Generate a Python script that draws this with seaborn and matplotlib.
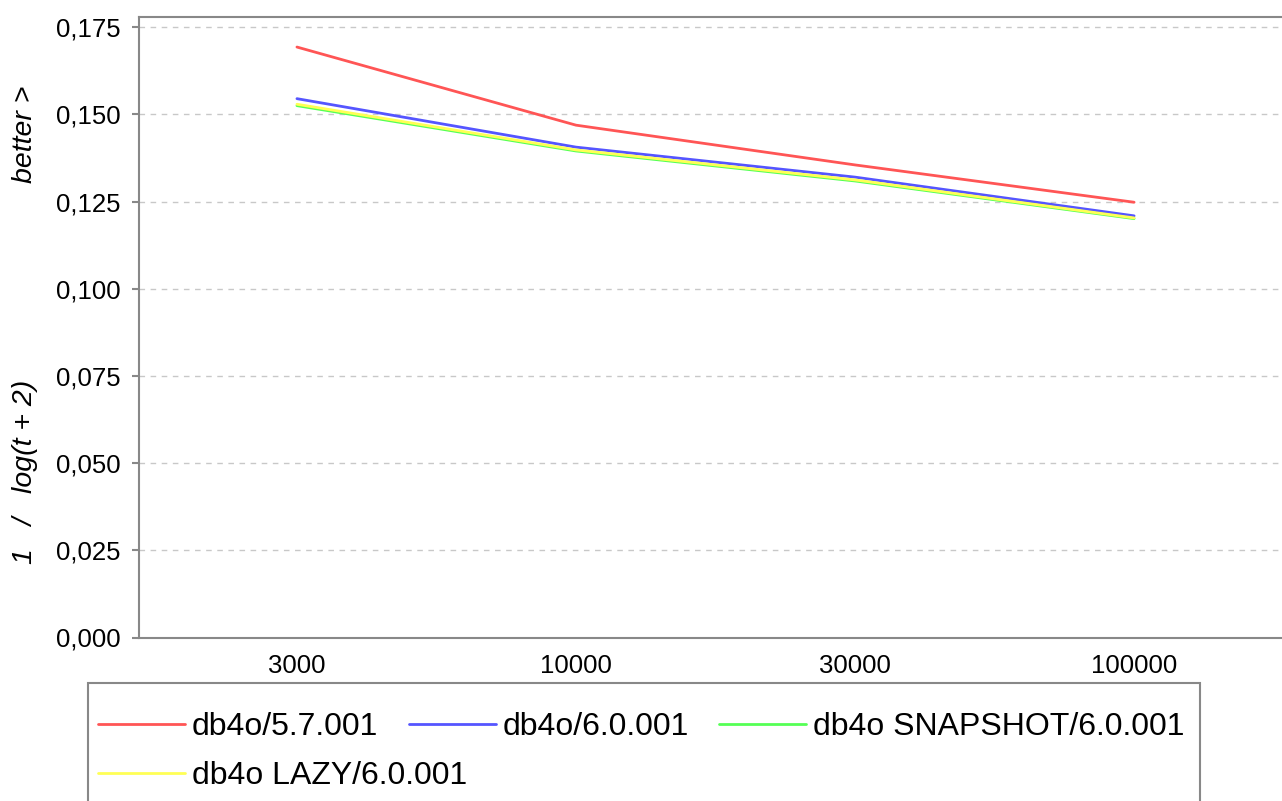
import matplotlib
matplotlib.use("Agg")
import matplotlib.pyplot as plt
import matplotlib.patches as mpatches
from matplotlib.ticker import FuncFormatter, FixedLocator
import seaborn as sns
import pandas as pd

# ---- data ----
sizes = ["3000", "10000", "30000", "100000"]
series_names = ["db4o/5.7.001", "db4o/6.0.001", "db4o SNAPSHOT/6.0.001", "db4o LAZY/6.0.001"]
v_57 = [0.1693, 0.1469, 0.1355, 0.1248]
v_60 = [0.1545, 0.1406, 0.1320, 0.1209]
v_snap = [0.1525, 0.1395, 0.1309, 0.1201]
v_lazy = [0.1529, 0.1398, 0.1312, 0.1203]
colors = ["#FF5555", "#5555FF", "#55FF55", "#FFFF55"]
y_ticks = [0.0, 0.025, 0.05, 0.075, 0.1, 0.125, 0.15, 0.175]

rows = []
for name, vals in zip(series_names, [v_57, v_60, v_snap, v_lazy]):
    for s, v in zip(sizes, vals):
        rows.append({"size": s, "value": v, "series": name})
df = pd.DataFrame(rows)

sns.set_theme(style="white")
plt.rcParams["font.family"] = ["Liberation Sans", "DejaVu Sans"]
plt.rcParams["text.color"] = "black"
plt.rcParams["legend.labelcolor"] = "black"

W, H = 1282, 801
fig = plt.figure(figsize=(W / 100, H / 100), dpi=100)
ax = fig.add_axes([139 / W, 1 - 637.5 / H, 1 - 139 / W, (637.5 - 16.7) / H])

sns.lineplot(data=df, x="size", y="value", hue="series", hue_order=series_names,
             palette=colors, linewidth=2.0, ax=ax, sort=False, legend=True)

ax.set_xlim(-0.566, 3.53)
ax.set_ylim(0, 0.178)
ax.yaxis.set_major_locator(FixedLocator(y_ticks))
ax.yaxis.set_major_formatter(FuncFormatter(lambda v, p: f"{v:.3f}".replace(".", ",")))
ax.grid(axis="y", color="#C8C8C8", linestyle=(0, (4, 4)), linewidth=1.0)
ax.set_axisbelow(True)
for side in ["left", "bottom", "top"]:
    ax.spines[side].set_color("#888888")
    ax.spines[side].set_linewidth(1.5)
ax.spines["right"].set_visible(False)
ax.tick_params(axis="y", which="major", left=True, length=5, width=1.5, color="#888888",
               pad=8, labelsize=18.5, labelcolor="black")
ax.tick_params(axis="x", which="major", bottom=False, length=0, pad=12, labelsize=18.5,
               labelcolor="black")
ax.set_xlabel("")
ax.set_ylabel("")

fig.text(25 / W, 1 - 472 / H, "1   /   log(t + 2)", rotation=90, ha="center", va="center",
         fontsize=20.5, style="italic", color="black")
fig.text(25 / W, 1 - 134 / H, "better >", rotation=90, ha="center", va="center",
         fontsize=20.5, style="italic", color="black")

handles, labels = ax.get_legend_handles_labels()
ax.get_legend().remove()
for h in handles:
    h.set_linewidth(2.0)

common = dict(frameon=False, fontsize=23, handlelength=2.72, handletextpad=0.22,
              columnspacing=0.95, borderpad=0, borderaxespad=0, bbox_transform=fig.transFigure,
              labelcolor="black")
leg1 = fig.legend(handles[:3], labels[:3], ncol=3, loc="center left",
                  bbox_to_anchor=(98 / W, 1 - 727 / H), **common)
leg2 = fig.legend(handles[3:], labels[3:], ncol=1, loc="center left",
                  bbox_to_anchor=(98 / W, 1 - 776 / H), **common)

rect = mpatches.Rectangle((88 / W, -0.05), (1200 - 88) / W, (0.05 + 1 - 683 / H),
                          transform=fig.transFigure, fill=False, edgecolor="#888888",
                          linewidth=1.5, clip_on=False)
fig.patches.append(rect)

fig.savefig("out.png", dpi=100)
